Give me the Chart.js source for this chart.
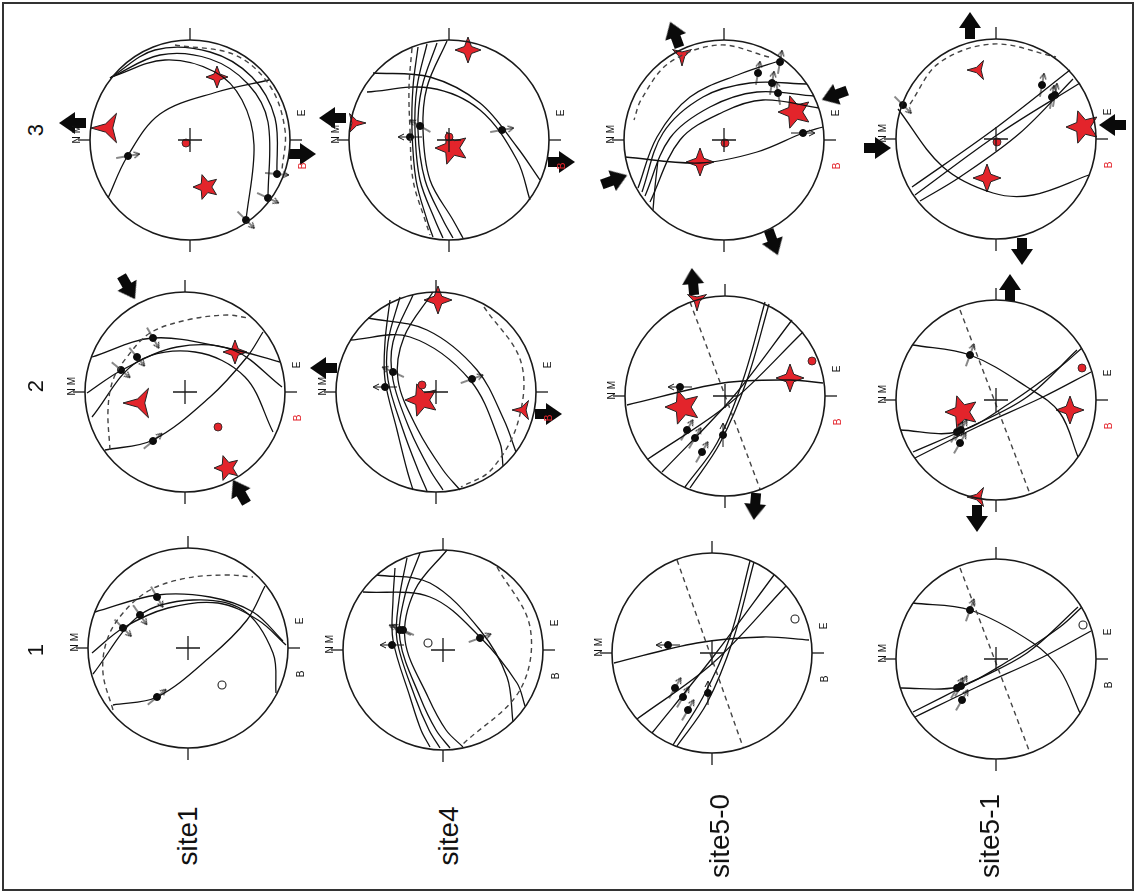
<!DOCTYPE html>
<html>
<head>
<meta charset="utf-8">
<script src="https://cdn.jsdelivr.net/npm/chart.js"></script>
<style>
  body { margin: 0; background: #fff; width: 1137px; height: 895px; overflow: hidden; position: relative;
         font-family: "Liberation Sans", Arial, sans-serif; }
  #frame { position: absolute; left: 2px; top: 2px; width: 1128px; height: 885px; border: 2px solid #333; }
  canvas.net { position: absolute; }
  .lbl { position: absolute; transform: translate(-50%, -50%) rotate(-90deg); white-space: nowrap; color: #111; }
</style>
</head>
<body>
<div id="frame"></div>
<script>
// ---- data (unit circle = primitive of each stereonet) ----
const rowLabels = ['3', '2', '1'];
const siteLabels = ['site1', 'site4', 'site5-0', 'site5-1'];
const tickMarks = [[0, 1.06, 90], [0, -1.06, 90], [1.06, 0, 0], [-1.06, 0, 0]];

// one entry per net: row "3" left to right, then row "2", then row "1"
const planes = [
  [[[-0.82,-0.58],[-0.63,-0.17],[-0.30,0.26],[0.27,0.48],[0.79,0.60]],
   [[-0.80,0.62],[-0.35,0.90],[0.20,0.88],[0.62,0.63],[0.85,0.22],[0.87,-0.34]],
   [[-0.80,0.62],[-0.30,0.85],[0.20,0.81],[0.58,0.56],[0.78,0.18],[0.78,-0.58]],
   [[-0.79,0.63],[-0.25,0.80],[0.25,0.68],[0.52,0.40],[0.64,-0.05],[0.56,-0.80]]],
  [[[-0.31,0.93],[-0.36,0.53],[-0.37,0.10],[-0.33,-0.40],[-0.22,-0.80],[-0.16,-0.97]],
   [[-0.22,0.96],[-0.32,0.53],[-0.34,0.10],[-0.29,-0.40],[-0.14,-0.80],[-0.06,-0.98]],
   [[-0.12,0.97],[-0.27,0.53],[-0.31,0.10],[-0.24,-0.40],[-0.06,-0.80],[0.04,-0.98]],
   [[-0.02,0.99],[-0.22,0.53],[-0.26,0.10],[-0.19,-0.40],[0.04,-0.80],[0.14,-0.98]],
   [[-0.76,0.67],[-0.19,0.63],[0.31,0.37],[0.68,-0.07],[0.91,-0.40]],
   [[-0.82,0.48],[-0.19,0.52],[0.31,0.30],[0.68,-0.20],[0.81,-0.60]]],
  [[[-0.86,-0.48],[-0.67,0.03],[-0.34,0.43],[0.16,0.66],[0.58,0.80]],
   [[-0.82,-0.52],[-0.61,0.07],[-0.21,0.43],[0.26,0.57],[0.83,0.56]],
   [[-0.79,-0.56],[-0.54,0.02],[-0.14,0.33],[0.33,0.48],[0.90,0.44]],
   [[-0.74,-0.62],[-0.44,0.00],[-0.01,0.28],[0.39,0.40],[0.95,0.32]],
   [[-0.99,-0.17],[-0.24,-0.23],[0.33,-0.12],[0.79,0.07],[0.99,0.13]],
   [[-0.66,-0.20],[-0.69,-0.47],[-0.71,-0.70]]],
  [[[-0.84,-0.48],[-0.03,0.09],[0.74,0.69]],
   [[-0.81,-0.56],[0.04,0.06],[0.84,0.56]],
   [[-0.76,-0.62],[-0.36,-0.38],[0.24,0.06],[0.77,0.60]],
   [[-0.98,0.30],[-0.53,-0.28],[-0.03,-0.54],[0.37,-0.56],[0.93,-0.36]]],
  [[[-0.80,-0.58],[-0.32,-0.48],[0.25,-0.05],[0.62,0.35],[0.78,0.60]],
   [[-0.93,0.35],[-0.32,0.54],[0.42,0.44],[0.95,0.30]],
   [[-0.98,-0.01],[-0.63,0.22],[-0.08,0.45],[0.48,0.42],[0.97,0.05]],
   [[-0.93,-0.25],[-0.48,0.30],[0.10,0.40],[0.60,0.15],[0.88,-0.40]]],
  [[[-0.46,0.92],[-0.51,0.50],[-0.51,0.12],[-0.39,-0.38],[-0.29,-0.78],[-0.23,-0.98]],
   [[-0.36,0.95],[-0.48,0.50],[-0.48,0.12],[-0.33,-0.38],[-0.18,-0.78],[-0.09,-0.99]],
   [[-0.23,0.97],[-0.43,0.50],[-0.43,0.12],[-0.26,-0.38],[-0.06,-0.78],[0.07,-0.98]],
   [[-0.03,1.00],[-0.32,0.55],[-0.38,0.12],[-0.18,-0.38],[0.07,-0.78],[0.24,-0.98]],
   [[-0.68,0.74],[-0.09,0.62],[0.41,0.22],[0.68,-0.28],[0.80,-0.60]],
   [[-0.86,0.52],[-0.26,0.55],[0.34,0.12],[0.64,-0.51],[0.67,-0.74]]],
  [[[-0.98,-0.09],[-0.02,0.13],[0.65,0.16],[0.98,0.13]],
   [[0.40,0.94],[0.18,0.16],[-0.08,-0.47],[-0.40,-0.91]],
   [[0.44,0.92],[0.22,0.16],[-0.05,-0.47],[-0.35,-0.92]],
   [[0.67,0.76],[0.08,-0.01],[-0.63,-0.76]],
   [[0.78,0.64],[0.05,-0.07],[-0.77,-0.63]]],
  [[[-0.83,0.55],[-0.26,0.45],[0.31,0.13],[0.64,-0.13],[0.82,-0.57]],
   [[-0.96,-0.30],[-0.39,-0.32],[0.14,-0.03],[0.64,0.33],[0.86,0.52]],
   [[-0.83,-0.52],[-0.26,-0.27],[0.31,0.03],[0.81,0.50]],
   [[-0.81,-0.58],[-0.19,-0.27],[0.47,0.03],[0.95,0.28]]],
  [[[-0.75,-0.57],[-0.31,-0.49],[0.22,-0.09],[0.59,0.28],[0.77,0.62]],
   [[-0.93,0.36],[-0.31,0.53],[0.22,0.51],[0.65,0.36],[0.95,0.07]],
   [[-0.96,-0.05],[-0.65,0.20],[-0.20,0.40],[0.30,0.45],[0.70,0.28],[0.98,0.03]],
   [[-0.95,-0.26],[-0.48,0.33],[0.05,0.48],[0.55,0.38],[0.85,-0.05],[0.88,-0.45]]],
  [[[-0.48,0.82],[-0.50,0.50],[-0.50,0.10],[-0.33,-0.47],[-0.22,-0.80],[-0.13,-0.97]],
   [[-0.36,0.92],[-0.44,0.50],[-0.46,0.10],[-0.28,-0.47],[-0.14,-0.80],[-0.03,-0.98]],
   [[-0.23,0.97],[-0.38,0.55],[-0.43,0.10],[-0.23,-0.47],[-0.07,-0.80],[0.07,-0.98]],
   [[0.04,1.00],[-0.28,0.60],[-0.38,0.10],[-0.15,-0.47],[0.03,-0.80],[0.20,-0.97]],
   [[-0.66,0.75],[-0.13,0.67],[0.37,0.20],[0.64,-0.27],[0.70,-0.72]],
   [[-0.80,0.58],[-0.13,0.53],[0.37,0.13],[0.74,-0.33],[0.82,-0.56]]],
  [[[-0.98,-0.10],[-0.15,0.10],[0.51,0.16],[0.97,0.13]],
   [[0.38,0.92],[0.18,0.16],[-0.09,-0.44],[-0.39,-0.92]],
   [[0.42,0.91],[0.21,0.13],[-0.05,-0.50],[-0.35,-0.93]],
   [[0.62,0.78],[0.01,-0.04],[-0.60,-0.80]],
   [[0.74,0.67],[0.01,-0.10],[-0.75,-0.66]]],
  [[[-0.83,0.56],[-0.26,0.49],[0.37,0.16],[0.64,-0.11],[0.84,-0.54]],
   [[-0.96,-0.29],[-0.39,-0.28],[0.14,-0.01],[0.64,0.32],[0.86,0.52]],
   [[-0.83,-0.53],[-0.26,-0.24],[0.31,0.06],[0.82,0.52]],
   [[-0.81,-0.58],[-0.19,-0.28],[0.47,0.02],[0.95,0.28]]]
];

const dashedPlanes = [
  [[[-0.15,0.95],[0.45,0.85],[0.80,0.54],[0.95,0.10],[0.92,-0.30]]],
  [[[-0.37,0.92],[-0.40,0.53],[-0.39,0.10],[-0.36,-0.40],[-0.24,-0.80],[-0.19,-0.95]]],
  [[[0.45,0.83],[-0.05,0.95],[-0.55,0.77],[-0.83,0.40],[-0.90,0.20]]],
  [[[-0.86,0.35],[-0.57,0.76],[-0.03,0.95],[0.60,0.82]]],
  [[[-0.75,-0.58],[-0.77,-0.18],[-0.72,0.12],[-0.58,0.35],[-0.35,0.59],[0.02,0.72],[0.42,0.77],[0.63,0.74]]],
  [[[0.48,0.85],[0.85,0.30],[0.82,-0.30],[0.55,-0.78],[0.25,-0.95]]],
  [[[-0.35,0.94],[0.35,-0.93]]],
  [[[-0.36,0.90],[0.34,-0.94]]],
  [[[-0.75,-0.62],[-0.85,-0.25],[-0.81,0.08],[-0.65,0.35],[-0.38,0.58],[-0.01,0.70],[0.39,0.73],[0.65,0.71]]],
  [[[0.54,0.83],[0.87,0.23],[0.77,-0.40],[0.20,-0.94]]],
  [[[-0.35,0.93],[0.31,-0.94]]],
  [[[-0.36,0.91],[0.34,-0.94]]]
];

// slip data: x, y, slip direction (deg)
const slipDots = [
  [[-0.62,-0.16,-10],[0.87,-0.34,5],[0.78,-0.58,25],[0.56,-0.80,45]],
  [[-0.29,0.14,-150],[-0.39,0.03,180],[0.53,0.10,-10]],
  [[0.34,0.67,-80],[0.56,0.78,-80],[0.48,0.57,-80],[0.54,0.47,-100],[0.79,0.07,0]],
  [[-0.93,0.34,45],[0.46,0.54,-80],[0.56,0.42,-80],[0.59,0.44,-80]],
  [[-0.32,0.54,60],[-0.48,0.35,50],[-0.64,0.22,40],[-0.32,-0.49,-40]],
  [[-0.43,0.20,-155],[-0.51,0.05,180],[0.36,0.13,-20]],
  [[-0.45,0.09,180],[-0.38,-0.34,-60],[-0.30,-0.42,-60],[-0.23,-0.56,-60],[-0.02,-0.39,-90]],
  [[-0.26,0.45,-70],[-0.39,-0.32,-60],[-0.35,-0.30,-60],[-0.36,-0.43,-60]],
  [[-0.31,0.51,60],[-0.48,0.33,55],[-0.65,0.20,45],[-0.31,-0.49,-40]],
  [[-0.43,0.20,-155],[-0.40,0.20,-155],[-0.51,0.05,180],[0.37,0.12,-20]],
  [[-0.44,0.08,180],[-0.37,-0.35,-60],[-0.29,-0.44,-60],[-0.24,-0.57,-60],[-0.04,-0.40,-90]],
  [[-0.26,0.49,-70],[-0.39,-0.29,-60],[-0.35,-0.27,-60],[-0.34,-0.41,-60]]
];

const sigma1 = [[0.16,-0.47],[0.03,-0.08],[0.71,0.28],[0.87,0.12],[0.42,-0.76],[-0.14,-0.08],[-0.42,-0.11],[-0.34,-0.12],null,null,null,null];
const sigma2 = [[0.27,0.63],[0.19,0.90],[-0.24,-0.22],[-0.09,-0.39],[0.50,0.40],[0.02,0.92],[0.65,0.18],[0.74,-0.10],null,null,null,null];
const sigma3 = [[-0.82,0.12],[-0.94,0.17],[-0.42,0.85],[-0.18,0.69],[-0.45,-0.11],[0.87,-0.18],[-0.28,0.96],[-0.18,-0.97],null,null,null,null];
const redPoles = [[-0.04,-0.03],[0.00,0.03],[0.01,-0.03],[0.01,-0.03],[0.33,-0.35],[-0.14,0.07],[0.87,0.35],[0.86,0.32],null,null,null,null];
const openPoles = [null,null,null,null,null,null,null,null,[0.34,-0.37],[-0.15,0.07],[0.83,0.34],[0.87,0.34]];

// horizontal stress arrows: x, y, direction (deg, clockwise from east)
const stressArrows = [
  [[-1.17,0.17,180],[1.12,-0.14,0]],
  [[-1.16,0.22,180],[1.12,-0.22,0]],
  [[-0.49,1.05,-110],[1.11,0.45,160],[-1.10,-0.40,-20],[0.49,-1.02,70]],
  [[-0.26,1.13,-90],[1.17,0.14,180],[-1.19,-0.09,0],[0.26,-1.12,90]],
  [[-0.57,1.05,60],[0.55,-1.00,-120]],
  [[-1.12,0.24,180],[1.12,-0.22,0]],
  [[-0.32,1.14,-95],[0.30,-1.10,95]],
  [[0.14,1.12,-90],[-0.19,-1.18,90]],
  [], [], [], []
];

// ---- layout / style ----
const netCenters = [
  [190,140],[449,140],[724,140],[996,139],
  [185,392],[436,392],[725,396],[996,400],
  [188,648],[443,650],[712,653],[996,659]
];
const starSizes = [[26,22,34],[34,26,22],[34,28,22],[34,28,22],[26,24,34],[34,28,22],[36,28,22],[34,28,22]];
const s3Rot = [-90, 90, 180, -90, -90, -90, 180, -90];
const RED = '#e3242b';

function starImage(n, size, inner) {
  const c = document.createElement('canvas');
  c.width = c.height = size + 2;
  const g = c.getContext('2d');
  const r = size / 2, m = c.width / 2;
  g.beginPath();
  for (let i = 0; i < n * 2; i++) {
    const a = -Math.PI / 2 + i * Math.PI / n;
    const rr = i % 2 ? r * inner : r;
    g.lineTo(m + rr * Math.cos(a), m + rr * Math.sin(a));
  }
  g.closePath();
  g.fillStyle = RED; g.fill();
  g.lineWidth = 1; g.strokeStyle = '#222'; g.stroke();
  return c;
}

function arrowImage() {
  const c = document.createElement('canvas');
  c.width = 28; c.height = 22;
  const g = c.getContext('2d');
  g.fillStyle = '#0a0a0a';
  g.fillRect(1, 6, 13, 10);
  g.beginPath(); g.moveTo(12, 0); g.lineTo(28, 11); g.lineTo(12, 22); g.closePath(); g.fill();
  return c;
}

function slipImage() {
  const c = document.createElement('canvas');
  c.width = 26; c.height = 8;
  const g = c.getContext('2d');
  g.strokeStyle = '#111'; g.lineWidth = 1;
  g.beginPath(); g.moveTo(1, 4); g.lineTo(24, 4); g.stroke();
  g.beginPath(); g.moveTo(25, 4); g.lineTo(19, 1); g.moveTo(25, 4); g.lineTo(19, 7); g.stroke();
  return c;
}

const arrowImg = arrowImage();
const slipImg = slipImage();

const xy = p => ({ x: p[0], y: p[1] });

const netText = {
  id: 'netText',
  afterDatasetsDraw(chart, args, opts) {
    const g = chart.ctx, sx = chart.scales.x, sy = chart.scales.y;
    const put = (t, x, y, color) => {
      g.save();
      g.translate(sx.getPixelForValue(x), sy.getPixelForValue(y));
      g.rotate(-Math.PI / 2);
      g.fillStyle = color; g.font = '10px "Liberation Sans"';
      g.textAlign = 'center'; g.textBaseline = 'middle';
      g.fillText(t, 0, 0);
      g.restore();
    };
    put('N', -1.13, 0, '#111');
    put('M', -1.13, 0.11, '#111');
    put('E', 1.12, 0.27, '#111');
    put('B', 1.13, -0.26, opts.red ? RED : '#111');
  }
};

function line(points, dashed) {
  return {
    data: points.map(xy), showLine: true, pointRadius: 0, fill: false,
    borderColor: dashed ? '#444' : '#111', borderWidth: dashed ? 1.4 : 1.3,
    borderDash: dashed ? [5, 4] : [], tension: 0.35, clip: false
  };
}

function drawNet(i) {
  const [cx, cy] = netCenters[i];
  const cv = document.createElement('canvas');
  cv.width = 280; cv.height = 280; cv.className = 'net';
  cv.style.left = (cx - 140) + 'px'; cv.style.top = (cy - 140) + 'px';
  document.body.appendChild(cv);

  const ds = [];
  ds.push({ data: [{ x: 0, y: 0 }], pointStyle: 'circle', pointRadius: 100, pointBackgroundColor: 'rgba(0,0,0,0)',
            pointBorderColor: '#1a1a1a', pointBorderWidth: 1.6, clip: false });
  ds.push({ data: tickMarks.map(xy), pointStyle: 'line', pointRadius: 6, pointRotation: tickMarks.map(t => t[2]),
            pointBorderColor: '#1a1a1a', pointBorderWidth: 1.3, clip: false });
  ds.push({ data: [{ x: 0, y: 0 }], pointStyle: 'cross', pointRadius: 12, pointBorderColor: '#1a1a1a', pointBorderWidth: 1.3 });
  dashedPlanes[i].forEach(p => ds.push(line(p, true)));
  planes[i].forEach(p => ds.push(line(p, false)));
  ds.push({ data: slipDots[i].map(xy), pointStyle: slipImg, pointRotation: slipDots[i].map(s => s[2]), clip: false });
  ds.push({ data: slipDots[i].map(xy), pointStyle: 'circle', pointRadius: 3.5, pointBackgroundColor: '#0a0a0a',
            pointBorderColor: '#0a0a0a', pointBorderWidth: 1 });
  if (redPoles[i]) ds.push({ data: [xy(redPoles[i])], pointStyle: 'circle', pointRadius: 4, pointBackgroundColor: RED,
            pointBorderColor: '#222', pointBorderWidth: 0.8 });
  if (openPoles[i]) ds.push({ data: [xy(openPoles[i])], pointStyle: 'circle', pointRadius: 4, pointBackgroundColor: '#fff',
            pointBorderColor: '#222', pointBorderWidth: 1.1 });
  if (sigma1[i]) {
    const [a, b, c] = starSizes[i];
    ds.push({ data: [xy(sigma3[i])], pointStyle: starImage(3, c, 0.28), pointRotation: s3Rot[i], clip: false });
    ds.push({ data: [xy(sigma2[i])], pointStyle: starImage(4, b, 0.38), clip: false });
    ds.push({ data: [xy(sigma1[i])], pointStyle: starImage(5, a, 0.45), pointRotation: -90, clip: false });
  }
  if (stressArrows[i].length) ds.push({ data: stressArrows[i].map(xy), pointStyle: arrowImg,
            pointRotation: stressArrows[i].map(s => s[2]), clip: false });

  new Chart(cv, {
    type: 'scatter',
    data: { datasets: ds },
    options: {
      responsive: false, animation: false, events: [],
      layout: { padding: 0, autoPadding: false },
      plugins: { legend: { display: false }, tooltip: { enabled: false }, netText: { red: i < 8 } },
      scales: {
        x: { type: 'linear', min: -1.4, max: 1.4, display: false },
        y: { type: 'linear', min: -1.4, max: 1.4, display: false }
      }
    },
    plugins: [netText]
  });
}

for (let i = 0; i < netCenters.length; i++) drawNet(i);

// row and site labels, rotated like the rest of the figure
function label(text, x, y, size) {
  const d = document.createElement('div');
  d.className = 'lbl'; d.textContent = text;
  d.style.left = x + 'px'; d.style.top = y + 'px'; d.style.fontSize = size + 'px';
  document.body.appendChild(d);
}
const rowY = [130, 386, 650];
rowLabels.forEach((t, k) => label(t, 36, rowY[k], 22));
const siteX = [188, 449, 720, 990];
siteLabels.forEach((t, k) => label(t, siteX[k], 836, 28));
</script>
</body>
</html>
